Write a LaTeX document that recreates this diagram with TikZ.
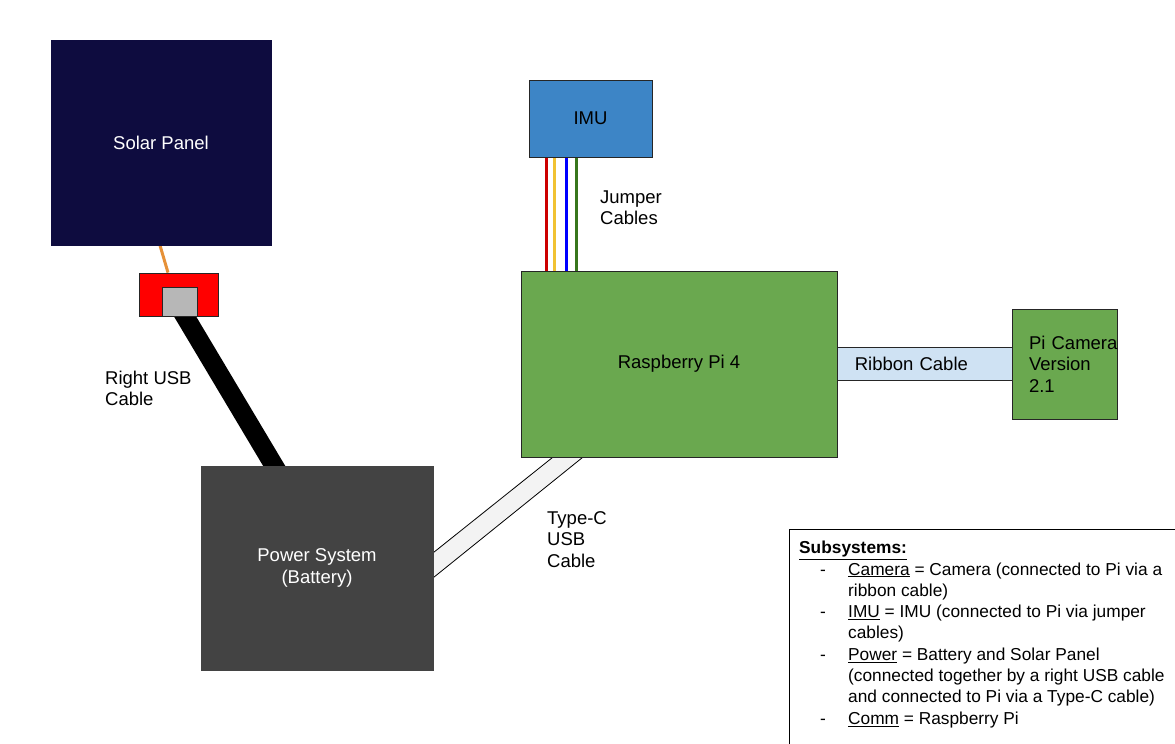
\documentclass[tikz,border=0pt]{standalone}
\usepackage{fontspec}
\setmainfont{Liberation Sans}
\usepackage{tikz}
\usetikzlibrary{calc}
\usetikzlibrary{backgrounds}
\definecolor{solarnavy}{HTML}{0E0C3F}
\definecolor{plugred}{HTML}{FF0000}
\definecolor{portgray}{HTML}{B7B7B7}
\definecolor{wireorange}{HTML}{E69138}
\definecolor{batterygray}{HTML}{434343}
\definecolor{imublue}{HTML}{3D85C6}
\definecolor{pigreen}{HTML}{6AA84F}
\definecolor{ribbonblue}{HTML}{CFE2F3}
\definecolor{typecgray}{HTML}{F3F3F3}
\definecolor{jred}{HTML}{CC0000}
\definecolor{jyellow}{HTML}{F1C232}
\definecolor{jblue}{HTML}{0000FF}
\definecolor{jgreen}{HTML}{38761D}
\tikzset{x=1pt, y=-1pt,
every node/.style={font=\fontsize{18.5}{21.5}\selectfont},
block/.style={ % Sets the properties for each part
rectangle,
draw=black!85,
line width=0.8pt,
inner sep=0pt,
align=center},
cable label/.style={ % Text beside a cable
anchor=west,
align=left,
inner sep=0pt},
jumper/.style={line width=3pt}}
\newcommand{\legenddash}{\hspace*{21pt}\makebox[28pt][l]{-}}
\newcommand{\legendindent}{\hspace*{49pt}}

\begin{document}
\begin{tikzpicture}
\useasboundingbox (0,0) rectangle (1175,744);
\node[block, fill=solarnavy, draw=solarnavy, text=white, minimum width=220pt, minimum height=205pt] (solar) at (161,142.5) {Solar Panel};
\node[block, fill=plugred, minimum width=79pt, minimum height=43pt] (usbplug) at (178.5,294.5) {};
\node[block, fill=portgray, minimum width=35pt, minimum height=29pt] (usbport) at (179.5,301.5) {};
\node[block, fill=batterygray, draw=batterygray, text=white, minimum width=232pt, minimum height=204pt] (power) at (317,568) {Power System\\(Battery)};
\node[block, fill=imublue, minimum width=123pt, minimum height=77pt] (imu) at (590.5,118.5) {IMU};
\node[block, fill=pigreen, minimum width=316pt, minimum height=186pt] (pi) at (679,364) {Raspberry Pi 4};
\node[block, fill=ribbonblue, anchor=west, minimum width=175pt, minimum height=33pt, text width=141pt, align=left] (ribbon) at ($(pi.east)+(0,-0.5)$) {Ribbon Cable};
\node[block, fill=pigreen, minimum width=105pt, minimum height=110pt, text width=71pt, align=left] (cam) at (1064.5,364) {\mbox{Pi Camera}\\Version\\2.1};

% cables go under the boxes
\begin{scope}[on background layer]
\draw[wireorange, line width=3pt] ($(solar.south)+(-1,0)$) -- ($(usbplug.north)+(-10.5,0)$);
\draw[black, line width=19pt, shorten <=-8pt, shorten >=-8pt] ($(usbport.south)+(5.5,0)$) -- ($(power.north)+(-43,0)$);
\foreach \dx/\col in {18/jred, 26/jyellow, 38/jblue, 48/jgreen}
  \draw[jumper, \col] ($(imu.south west)+(\dx,0)$) -- ($(pi.north west)+(\dx+8,0)$);
\coordinate (tca) at ($(pi.south west)+(32,0)$);
\coordinate (tcb) at ($(pi.south west)+(62,0)$);
\coordinate (tcc) at ($(power.north east)+(0,87)$);
\coordinate (tcd) at ($(power.north east)+(0,112)$);
\fill[typecgray] (tca) -- (tcb) -- (tcd) -- (tcc) -- cycle;
\draw[line width=0.8pt] (tca) -- (tcc) (tcb) -- (tcd);
\end{scope}

\node[cable label] (usblabel) at (105,388.5) {Right USB\\Cable};
\node[cable label] (jumperlabel) at (600,207.5) {Jumper\\Cables};
\node[cable label] (typeclabel) at (547,539.5) {Type-C\\USB\\Cable};

% legend box
\draw[fill=white, line width=0.8pt] (789,529) rectangle (1190,760);
\node[anchor=north west, inner sep=0pt, align=left, font=\fontsize{17.3}{21.3}\selectfont] (legend) at (799,541) {%
\underline{\textbf{Subsystems:}}\\
\legenddash\underline{Camera} = Camera (connected to Pi via a\\
\legendindent ribbon cable)\\
\legenddash\underline{IMU} = IMU (connected to Pi via jumper\\
\legendindent cables)\\
\legenddash\underline{Power} = Battery and Solar Panel\\
\legendindent(connected together by a right USB cable\\
\legendindent and connected to Pi via a Type-C cable)\\
\legenddash\underline{Comm} = Raspberry Pi};
\end{tikzpicture}
\end{document}
